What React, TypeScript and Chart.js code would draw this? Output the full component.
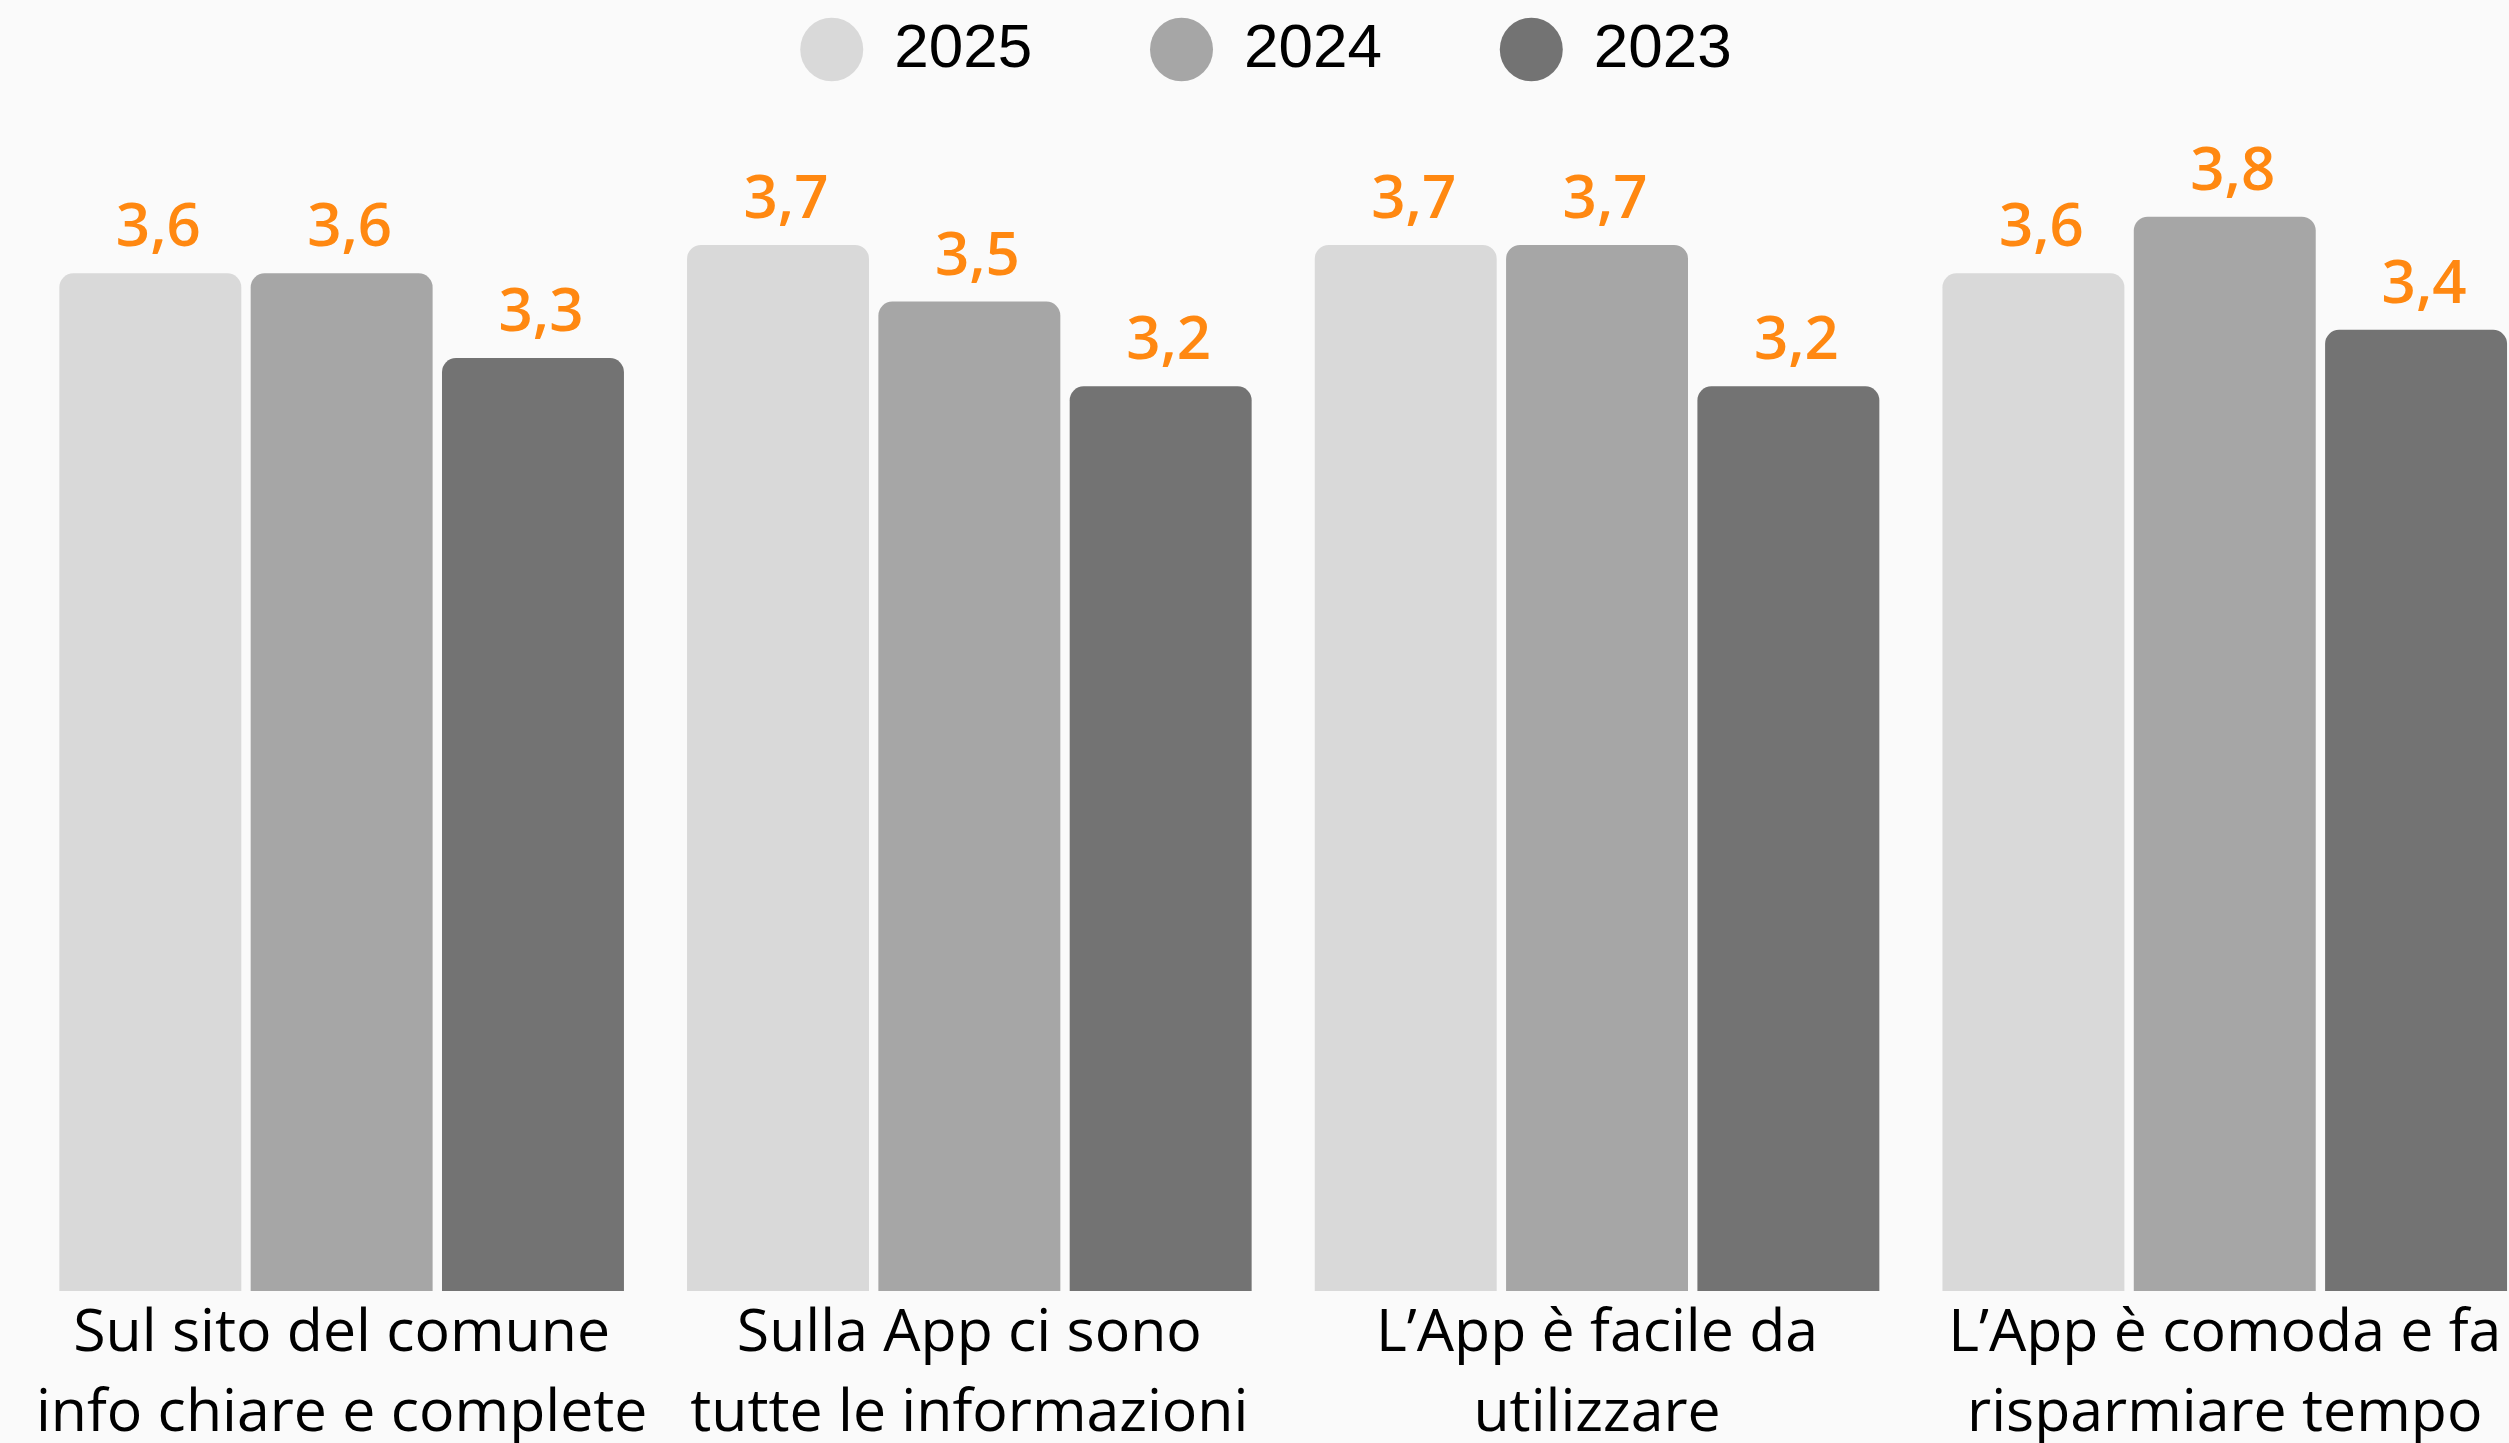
import React, { useEffect, useRef } from "react";
import { Chart, registerables } from "chart.js";

Chart.register(...registerables);

// ---- data ----
const categories: string[][] = [
  ["Sul sito del comune", "info chiare e complete"],
  ["Sulla App ci sono", "tutte le informazioni"],
  ["L’App è facile da", "utilizzare"],
  ["L’App è comoda e fa", "risparmiare tempo"],
];
const seriesLabels = ["2025", "2024", "2023"];
const values2025 = [3.6, 3.7, 3.7, 3.6];
const values2024 = [3.6, 3.5, 3.7, 3.8];
const values2023 = [3.3, 3.2, 3.2, 3.4];
const yMin = 0;
const yMax = 4;

// ---- styles ----
const seriesColors = ["#d9d9d9", "#a6a6a6", "#737373"];
const labelColor = "#ff8811";
const bgColor = "#fafafa";
const PAGE_W = 2509;
const PAGE_H = 1443;
const CANVAS_W = 2566;

const valueLabelsPlugin = {
  id: "valueLabels",
  afterDatasetsDraw(chart: any) {
    const ctx = chart.ctx;
    ctx.save();
    ctx.font = "600 60px 'Open Sans'";
    ctx.fillStyle = labelColor;
    ctx.textAlign = "center";
    ctx.textBaseline = "alphabetic";
    chart.data.datasets.forEach((ds: any, di: number) => {
      const meta = chart.getDatasetMeta(di);
      meta.data.forEach((bar: any, i: number) => {
        const v = ds.data[i] as number;
        ctx.fillText(v.toFixed(1).replace(".", ","), bar.x + 8, bar.y - 27);
      });
    });
    ctx.restore();
  },
};

const legendMarginPlugin = {
  id: "legendMargin",
  beforeInit(chart: any) {
    const legend = chart.legend;
    if (!legend) return;
    const fit = legend.fit;
    legend.fit = function () {
      fit.call(this);
      this.height += 69.7;
    };
  },
};

export default function App() {
  const canvasRef = useRef<HTMLCanvasElement | null>(null);

  useEffect(() => {
    document.body.style.margin = "0";
    document.body.style.background = bgColor;
    const canvas = canvasRef.current;
    if (!canvas) return;
    const seriesData = [values2025, values2024, values2023];
    const n = seriesLabels.length;
    const chart = new Chart(canvas, {
      type: "bar",
      data: {
        labels: categories,
        datasets: seriesLabels.map((label, i) => ({
          label,
          data: seriesData[i],
          backgroundColor: seriesColors[i],
          borderWidth: 0,
          borderRadius: 14,
          borderSkipped: "start",
          barPercentage: 0.951,
          categoryPercentage: 0.9144,
        })),
      },
      options: {
        responsive: false,
        animation: false,
        devicePixelRatio: 1,
        layout: { padding: { left: 27.8, right: 27.4, top: 4, bottom: 0 } },
        plugins: {
          tooltip: { enabled: false },
          legend: {
            position: "top",
            align: "center",
            labels: {
              usePointStyle: true,
              pointStyle: "circle",
              pointStyleWidth: 63,
              boxHeight: 45,
              padding: 14.5,
              color: "#000",
              font: { family: "'Liberation Sans', Arial, sans-serif", size: 62 },
              generateLabels: (ch: any) =>
                ch.data.datasets.map((ds: any, i: number) => ({
                  text: ds.label + (i < n - 1 ? "      " : "  "),
                  fillStyle: ds.backgroundColor,
                  strokeStyle: ds.backgroundColor,
                  lineWidth: 0,
                  pointStyle: "circle",
                  hidden: false,
                  datasetIndex: i,
                  fontColor: "#000",
                })),
            },
          },
        },
        scales: {
          x: {
            grid: { display: false, drawTicks: false },
            border: { display: false },
            ticks: {
              color: "#000",
              padding: 3,
              maxRotation: 0,
              autoSkip: false,
              font: { family: "'Open Sans', sans-serif", size: 59, lineHeight: 1.36 },
            },
            afterFit: (scale: any) => {
              scale.height = 152;
            },
          },
          y: {
            display: false,
            min: yMin,
            max: yMax,
          },
        },
      },
      plugins: [valueLabelsPlugin, legendMarginPlugin],
    } as any);
    return () => chart.destroy();
  }, []);

  return (
    <div
      style={{
        position: "fixed",
        left: 0,
        top: 0,
        width: PAGE_W,
        height: PAGE_H,
        overflow: "hidden",
        background: bgColor,
      }}
    >
      <canvas
        ref={canvasRef}
        width={CANVAS_W}
        height={PAGE_H}
        style={{ width: CANVAS_W, height: PAGE_H, display: "block" }}
      />
    </div>
  );
}
